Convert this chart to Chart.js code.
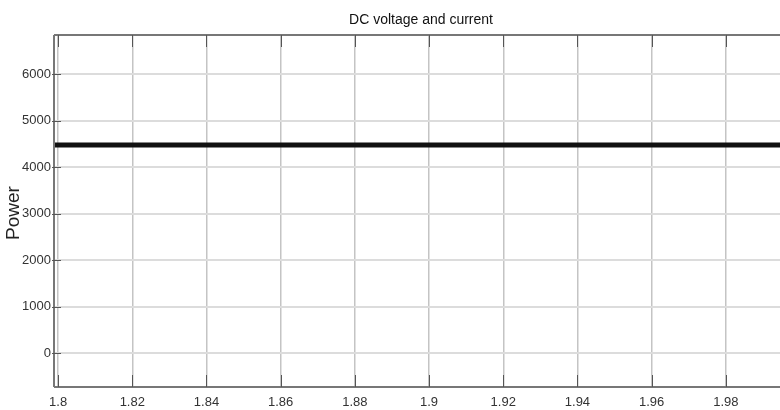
<!DOCTYPE html>
<html>
<head>
<meta charset="utf-8">
<script src="https://cdn.jsdelivr.net/npm/chart.js@4"></script>
<style>
html,body{margin:0;padding:0;background:#fff;}
#wrap{width:780px;height:410px;position:relative;}
</style>
</head>
<body>
<div id="wrap"><canvas id="c" width="780" height="410"></canvas></div>
<script>
// ---- data ----
const titleText = "DC voltage and current";
const yLabel = "Power";
const timeValues = [1.7989, 1.82, 1.84, 1.86, 1.88, 1.9, 1.92, 1.94, 1.96, 1.98, 1.9946];
const powerValues = [4480, 4480, 4480, 4480, 4480, 4480, 4480, 4480, 4480, 4480, 4480];
const xTickValues = [1.8, 1.82, 1.84, 1.86, 1.88, 1.9, 1.92, 1.94, 1.96, 1.98];
const xTickLabels = ["1.8", "1.82", "1.84", "1.86", "1.88", "1.9", "1.92", "1.94", "1.96", "1.98"];
const yTickValues = [0, 1000, 2000, 3000, 4000, 5000, 6000];
const yTickLabels = ["0", "1000", "2000", "3000", "4000", "5000", "6000"];
const xRange = [1.7989, 1.9946];
const yRange = [-725, 6845];

const tickFont = "'Liberation Sans Narrow', 'Arial Narrow', 'Liberation Sans', Arial, sans-serif";

const framePlugin = {
  id: 'frame',
  afterDraw(chart) {
    const {ctx, chartArea: a, scales: {x, y}} = chart;
    ctx.save();
    ctx.strokeStyle = '#777';
    ctx.lineWidth = 2;
    ctx.beginPath();
    ctx.moveTo(a.left, a.top); ctx.lineTo(a.right, a.top);
    ctx.moveTo(a.left, a.top); ctx.lineTo(a.left, a.bottom);
    ctx.moveTo(a.left, a.bottom); ctx.lineTo(a.right, a.bottom);
    ctx.stroke();
    ctx.lineWidth = 1;
    ctx.strokeStyle = '#555';
    ctx.beginPath();
    xTickValues.forEach(v => {
      const px = Math.round(x.getPixelForValue(v)) + 0.5;
      ctx.moveTo(px, a.top); ctx.lineTo(px, a.top + 12);
      ctx.moveTo(px, a.bottom); ctx.lineTo(px, a.bottom - 12);
    });
    yTickValues.forEach(v => {
      const py = Math.round(y.getPixelForValue(v)) + 0.5;
      ctx.moveTo(a.left - 2, py); ctx.lineTo(a.left + 7, py);
    });
    ctx.stroke();
    // title
    ctx.fillStyle = '#111';
    ctx.font = "14px 'Liberation Sans', Arial, sans-serif";
    ctx.textAlign = 'center';
    ctx.textBaseline = 'middle';
    ctx.fillText(titleText, 421, 20);
    // y label
    ctx.translate(14, 213);
    ctx.rotate(-Math.PI / 2);
    ctx.fillStyle = '#222';
    ctx.font = "19px 'Liberation Sans', Arial, sans-serif";
    ctx.fillText(yLabel, 0, 0);
    ctx.restore();
  }
};

new Chart(document.getElementById('c'), {
  type: 'line',
  data: {
    datasets: [{
      data: timeValues.map((t, i) => ({x: t, y: powerValues[i]})),
      borderColor: '#111',
      borderWidth: 5,
      pointRadius: 0,
      fill: false,
      tension: 0
    }]
  },
  options: {
    responsive: false,
    animation: false,
    devicePixelRatio: 1,
    layout: {padding: {top: 35, right: 0, left: 0, bottom: 0}},
    plugins: {legend: {display: false}, tooltip: {enabled: false}, title: {display: false}},
    scales: {
      x: {
        type: 'linear',
        min: xRange[0], max: xRange[1],
        afterBuildTicks(s) { s.ticks = xTickValues.map(v => ({value: v})); },
        afterFit(s) { s.height = 23; },
        border: {display: false},
        grid: {color: '#c4c4c4', lineWidth: 1.5, drawTicks: false},
        ticks: {
          padding: 8, maxRotation: 0, autoSkip: false,
          color: '#333', font: {family: tickFont, size: 13},
          callback: (v, i) => xTickLabels[i]
        }
      },
      y: {
        type: 'linear',
        min: yRange[0], max: yRange[1],
        afterBuildTicks(s) { s.ticks = yTickValues.map(v => ({value: v})); },
        afterFit(s) { s.width = 54; },
        border: {display: false},
        grid: {color: '#dcdcdc', lineWidth: 2, drawTicks: false},
        ticks: {
          padding: 3, color: '#333', font: {family: tickFont, size: 13},
          callback: (v, i) => yTickLabels[i]
        }
      }
    }
  },
  plugins: [framePlugin]
});
</script>
</body>
</html>
